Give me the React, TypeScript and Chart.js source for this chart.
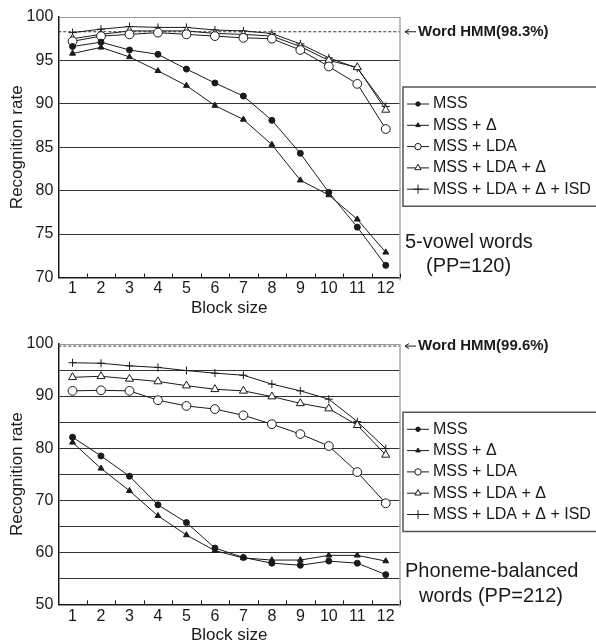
import React, { useEffect, useRef } from 'react';
import { Chart, registerables } from 'chart.js';
import { drawPoint } from 'chart.js/helpers';

Chart.register(...registerables);

const blockSizes = ['1', '2', '3', '4', '5', '6', '7', '8', '9', '10', '11', '12'];
const seriesLabels = ['MSS', 'MSS + Δ', 'MSS + LDA', 'MSS + LDA + Δ', 'MSS + LDA + Δ + ISD'];

// 5-vowel words (PP=120)
const vowelMSS = [96.6, 97.1, 96.2, 95.7, 94.0, 92.4, 90.9, 88.1, 84.3, 79.8, 75.8, 71.4];
const vowelMSSDelta = [95.8, 96.5, 95.4, 93.8, 92.1, 89.8, 88.2, 85.3, 81.2, 79.5, 76.7, 72.9];
const vowelLDA = [97.2, 97.8, 98.0, 98.2, 98.0, 97.8, 97.6, 97.5, 96.2, 94.3, 92.3, 87.1];
const vowelLDADelta = [97.5, 98.0, 98.4, 98.4, 98.4, 98.1, 98.0, 97.8, 96.6, 95.0, 94.2, 89.3];
const vowelISD = [98.2, 98.6, 98.9, 98.8, 98.8, 98.5, 98.4, 98.1, 96.9, 95.3, 94.1, 89.7];
const vowelHMM = 98.3;
const vowelNote = ['5-vowel words', '(PP=120)'];

// Phoneme-balanced words (PP=212)
const pbMSS = [82.1, 78.5, 74.6, 69.1, 65.7, 60.8, 59.0, 57.9, 57.5, 58.3, 57.9, 55.7];
const pbMSSDelta = [81.1, 76.1, 71.8, 67.0, 63.3, 60.3, 58.9, 58.5, 58.5, 59.4, 59.4, 58.3];
const pbLDA = [91.0, 91.1, 91.0, 89.2, 88.1, 87.5, 86.3, 84.6, 82.7, 80.4, 75.4, 69.4];
const pbLDADelta = [93.6, 93.8, 93.3, 92.8, 92.0, 91.3, 91.0, 89.9, 88.6, 87.6, 84.4, 78.7];
const pbISD = [96.4, 96.3, 95.8, 95.5, 94.9, 94.4, 94.0, 92.3, 91.0, 89.4, 85.1, 79.9];
const pbHMM = 99.6;
const pbNote = ['Phoneme-balanced', 'words (PP=212)'];

const FONT = '"Liberation Sans", Arial, Helvetica, sans-serif';
const INK = '#1a1a1a';

const markerStyles = [
  { pointStyle: 'circle', radius: 3, fill: INK, legendRadius: 2.2 },
  { pointStyle: 'triangle', radius: 3.4, fill: INK, legendRadius: 2.6 },
  { pointStyle: 'circle', radius: 4.4, fill: '#fff', legendRadius: 3.2 },
  { pointStyle: 'triangle', radius: 4.6, fill: '#fff', legendRadius: 3.6 },
  { pointStyle: 'cross', radius: 4, fill: INK, legendRadius: 4.5 },
];

type PanelCfg = {
  height: number;
  series: number[][];
  hmm: number;
  yMin: number;
  yMax: number;
  labelStep: number;
  note: string[];
  noteX: number[];
  noteY: number[];
  padTop: number;
  xHeight: number;
  xTickPad: number;
  xTitlePad: number;
  legendTop: number;
};

function makeConfig(cfg: PanelCfg): any {
  const annot = {
    id: 'annot',
    beforeDatasetsDraw(chart: any) {
      const { ctx, chartArea } = chart;
      const y = chart.scales.y.getPixelForValue(cfg.hmm);
      ctx.save();
      ctx.strokeStyle = '#333';
      ctx.lineWidth = 1;
      ctx.setLineDash([3, 2]);
      ctx.beginPath();
      ctx.moveTo(chartArea.left, y);
      ctx.lineTo(chartArea.right, y);
      ctx.stroke();
      ctx.restore();
    },
    afterDraw(chart: any) {
      const { ctx, chartArea } = chart;
      const xs = chart.scales.x;
      const ys = chart.scales.y;
      ctx.save();
      // right border
      ctx.strokeStyle = '#aaa';
      ctx.lineWidth = 1.5;
      ctx.beginPath();
      ctx.moveTo(chartArea.right, chartArea.top);
      ctx.lineTo(chartArea.right, chartArea.bottom + 3);
      ctx.stroke();
      // inside x ticks between categories
      const step = xs.getPixelForValue(1) - xs.getPixelForValue(0);
      ctx.strokeStyle = INK;
      ctx.lineWidth = 1;
      for (let i = 1; i <= blockSizes.length; i++) {
        const px = Math.round(xs.getPixelForValue(i) - step / 2) + 0.5;
        ctx.beginPath();
        ctx.moveTo(px, chartArea.bottom);
        ctx.lineTo(px, chartArea.bottom - 4);
        ctx.stroke();
      }
      // Word HMM arrow + label
      const hy = ys.getPixelForValue(cfg.hmm);
      const ax0 = chartArea.right + 5;
      const ax1 = chartArea.right + 16;
      ctx.strokeStyle = INK;
      ctx.lineWidth = 1;
      ctx.beginPath();
      ctx.moveTo(ax0, hy);
      ctx.lineTo(ax1, hy);
      ctx.moveTo(ax0 + 4, hy - 2.5);
      ctx.lineTo(ax0, hy);
      ctx.lineTo(ax0 + 4, hy + 2.5);
      ctx.stroke();
      ctx.fillStyle = INK;
      ctx.font = `bold 15px ${FONT}`;
      ctx.textBaseline = 'middle';
      ctx.textAlign = 'left';
      ctx.fillText(`Word HMM(${cfg.hmm}%)`, chartArea.right + 18, hy);
      // legend box
      const bx = chartArea.right + 3;
      const by = cfg.legendTop;
      const gap = 21.3;
      const bh = 34 + gap * (seriesLabels.length - 1);
      ctx.strokeStyle = '#555';
      ctx.lineWidth = 1.5;
      ctx.beginPath();
      ctx.moveTo(chart.width + 2, by);
      ctx.lineTo(bx, by);
      ctx.lineTo(bx, by + bh);
      ctx.lineTo(chart.width + 2, by + bh);
      ctx.stroke();
      ctx.font = `16px ${FONT}`;
      seriesLabels.forEach((label, i) => {
        const iy = by + 17 + gap * i;
        const ms = markerStyles[i];
        ctx.strokeStyle = INK;
        ctx.lineWidth = 1;
        ctx.beginPath();
        ctx.moveTo(bx + 4, iy);
        ctx.lineTo(bx + 26, iy);
        ctx.stroke();
        ctx.fillStyle = ms.fill;
        drawPoint(ctx, { pointStyle: ms.pointStyle, radius: ms.legendRadius, rotation: 0, borderWidth: 1 } as any, bx + 15, iy);
        ctx.fillStyle = INK;
        ctx.fillText(label, bx + 30, iy);
      });
      // note text
      ctx.font = `20px ${FONT}`;
      cfg.note.forEach((t, i) => {
        ctx.fillText(t, cfg.noteX[i], cfg.noteY[i]);
      });
      ctx.restore();
    },
  };

  return {
    type: 'line',
    data: {
      labels: blockSizes,
      datasets: cfg.series.map((vals, i) => ({
        label: seriesLabels[i],
        data: vals,
        borderColor: INK,
        borderWidth: 1,
        pointStyle: markerStyles[i].pointStyle,
        pointRadius: markerStyles[i].radius,
        pointBackgroundColor: markerStyles[i].fill,
        pointBorderColor: INK,
        pointBorderWidth: 1,
        tension: 0,
        fill: false,
      })),
    },
    options: {
      responsive: false,
      animation: false,
      events: [],
      layout: { padding: { top: cfg.padTop, right: 596 - 400, left: 0, bottom: 0 } },
      plugins: { legend: { display: false }, tooltip: { enabled: false } },
      scales: {
        x: {
          type: 'category',
          offset: true,
          grid: { display: false, drawTicks: false },
          border: { display: true, color: INK, width: 1.5 },
          ticks: {
            autoSkip: false,
            maxRotation: 0,
            padding: cfg.xTickPad,
            color: INK,
            font: { family: FONT, size: 16, lineHeight: 1.2 },
          },
          title: {
            display: true,
            text: 'Block size',
            color: INK,
            font: { family: FONT, size: 17, lineHeight: 1 },
            padding: { top: 0, bottom: cfg.xTitlePad },
          },
          afterFit: (s: any) => {
            s.height = cfg.xHeight;
          },
        },
        y: {
          min: cfg.yMin,
          max: cfg.yMax,
          grid: {
            drawTicks: false,
            lineWidth: 1,
            color: (c: any) => (c.tick && c.tick.value === cfg.yMax ? '#999' : '#333'),
          },
          border: { display: true, color: INK, width: 1.5 },
          ticks: {
            stepSize: 5,
            padding: 5,
            color: INK,
            font: { family: FONT, size: 16 },
            callback: (v: any) => (Number(v) % cfg.labelStep === 0 ? String(v) : ''),
          },
          title: {
            display: true,
            text: 'Recognition rate',
            color: INK,
            font: { family: FONT, size: 17, lineHeight: 1 },
            padding: { top: 8.5, bottom: 0 },
          },
          afterFit: (s: any) => {
            s.width = 58.3;
          },
        },
      },
    },
    plugins: [annot],
  };
}

function Panel({ cfg }: { cfg: PanelCfg }) {
  const ref = useRef<HTMLCanvasElement | null>(null);
  useEffect(() => {
    if (!ref.current) return;
    const chart = new Chart(ref.current, makeConfig(cfg));
    return () => chart.destroy();
  }, []);
  return <canvas ref={ref} width={596} height={cfg.height} style={{ display: 'block', width: 596, height: cfg.height }} />;
}

const topCfg: PanelCfg = {
  height: 320,
  series: [vowelMSS, vowelMSSDelta, vowelLDA, vowelLDADelta, vowelISD],
  hmm: vowelHMM,
  yMin: 70,
  yMax: 100,
  labelStep: 5,
  note: vowelNote,
  noteX: [405, 426],
  noteY: [242.7, 266.7],
  padTop: 17,
  xHeight: 42.5,
  xTickPad: 1.6,
  xTitlePad: 2.8,
  legendTop: 87,
};

const bottomCfg: PanelCfg = {
  height: 324,
  series: [pbMSS, pbMSSDelta, pbLDA, pbLDADelta, pbISD],
  hmm: pbHMM,
  yMin: 50,
  yMax: 100,
  labelStep: 10,
  note: pbNote,
  noteX: [405, 419],
  noteY: [251.7, 276.7],
  padTop: 24,
  xHeight: 39.7,
  xTickPad: 2.8,
  xTitlePad: 0,
  legendTop: 92.3,
};

export default function App() {
  return (
    <div style={{ position: 'absolute', left: 0, top: 0, width: 596, height: 644, background: '#fff', overflow: 'hidden' }}>
      <Panel cfg={topCfg} />
      <Panel cfg={bottomCfg} />
    </div>
  );
}
